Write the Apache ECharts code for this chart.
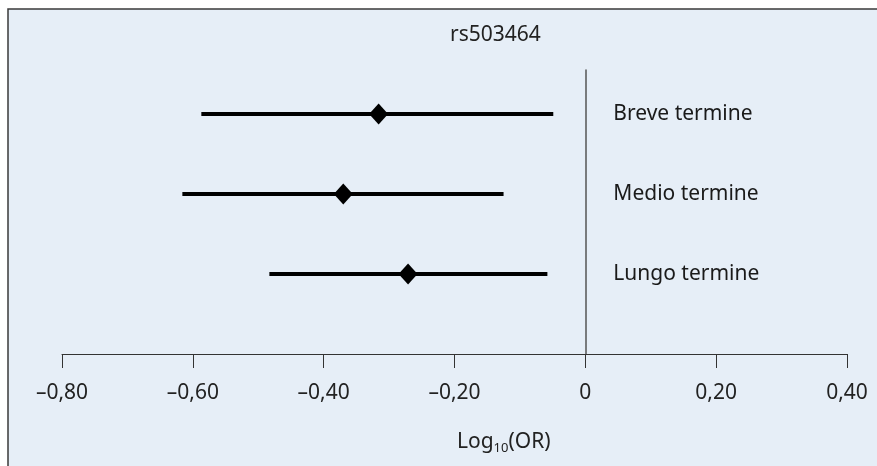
<!DOCTYPE html>
<html lang="it">
<head>
    <meta charset="UTF-8">
    <title>rs503464</title>
    <script src="https://cdn.jsdelivr.net/npm/echarts@6/dist/echarts.min.js"></script>
    <style>
        html, body { margin: 0; padding: 0; background: #fff; }
        #chart { width: 877px; height: 466px; }
    </style>
</head>
<body>
<div id="chart"></div>
<script>
    // forest plot values
    var categories = ['Breve termine', 'Medio termine', 'Lungo termine'];
    var rowPos = [3, 2, 1];
    var pointEst = [-0.316, -0.370, -0.271];
    var ciLow = [-0.587, -0.616, -0.483];
    var ciHigh = [-0.049, -0.125, -0.058];

    var font = '"Noto Sans", "Open Sans", sans-serif';
    var chart = echarts.init(document.getElementById('chart'));

    function fmt(v) {
        if (Math.abs(v) < 1e-9) return '0';
        return (v < 0 ? '\u2013' : '') + Math.abs(v).toFixed(2).replace('.', ',');
    }

    var ciData = categories.map(function (c, i) { return [ciLow[i], ciHigh[i], rowPos[i]]; });
    var ptData = categories.map(function (c, i) { return [pointEst[i], rowPos[i]]; });
    var lblData = categories.map(function (c, i) { return { name: c, value: [0, rowPos[i]] }; });

    chart.setOption({
        animation: false,
        textStyle: { fontFamily: font },
        graphic: [
            {
                type: 'rect', z: -10, silent: true,
                shape: { x: 8, y: 9, width: 900, height: 500 },
                style: { fill: '#e6eef7', stroke: '#3a3a3a', lineWidth: 1.5 }
            },
            {
                type: 'text', left: 450, top: 25,
                style: { text: 'rs503464', font: '21px ' + font, fill: '#222' }
            },
            {
                type: 'text', left: 457, top: 432,
                style: {
                    text: '{a|Log}{b|10}{a|(OR)}',
                    rich: {
                        a: { fontSize: 21, fontFamily: font, fill: '#222' },
                        b: { fontSize: 13, fontFamily: font, fill: '#222', padding: [11, 0, 0, 0] }
                    }
                }
            }
        ],
        grid: { left: 62, right: 30, top: 70, bottom: 112 },
        xAxis: {
            type: 'value', min: -0.8, max: 0.4, interval: 0.2,
            axisLine: { show: true, onZero: false, lineStyle: { color: '#333', width: 1 } },
            axisTick: { show: true, inside: false, length: 14, lineStyle: { color: '#333' } },
            axisLabel: { formatter: fmt, fontSize: 21, color: '#222', margin: 29, fontFamily: font },
            splitLine: { show: false }
        },
        yAxis: {
            type: 'value', min: 0, max: 3.55,
            axisLine: { show: true, onZero: true, lineStyle: { color: '#555', width: 1.5 } },
            axisTick: { show: false },
            axisLabel: { show: false },
            splitLine: { show: false }
        },
        series: [
            {
                type: 'custom',
                data: ciData,
                renderItem: function (params, api) {
                    var a = api.coord([api.value(0), api.value(2)]);
                    var b = api.coord([api.value(1), api.value(2)]);
                    return {
                        type: 'line',
                        shape: { x1: a[0], y1: a[1], x2: b[0], y2: b[1] },
                        style: { stroke: '#000', lineWidth: 4 }
                    };
                },
                encode: { x: [0, 1], y: 2 }
            },
            {
                type: 'scatter',
                data: ptData,
                symbol: 'diamond',
                symbolSize: [19, 21],
                itemStyle: { color: '#000', opacity: 1 },
                z: 5
            },
            {
                type: 'scatter',
                data: lblData,
                symbolSize: 0,
                itemStyle: { opacity: 1 },
                label: {
                    show: true, position: 'right', distance: 28,
                    formatter: '{b}', fontSize: 21, color: '#1a1a1a', fontFamily: font
                }
            }
        ]
    });
</script>
</body>
</html>
